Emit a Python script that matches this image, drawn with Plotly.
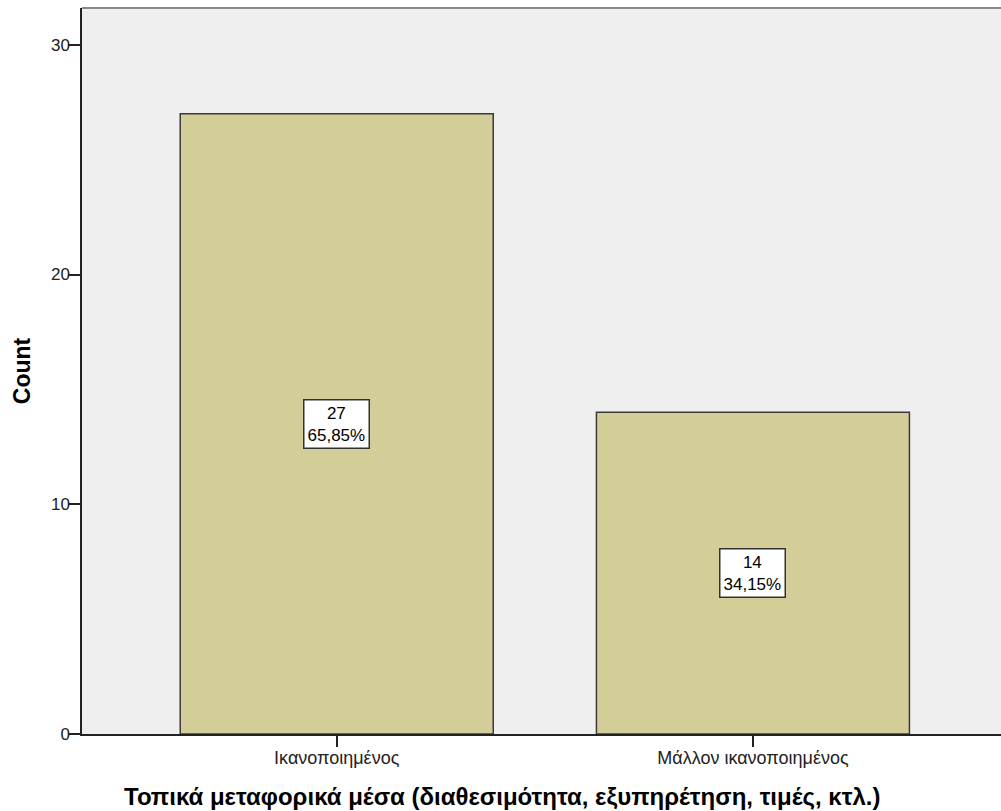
import plotly.graph_objects as go

categories = ["Ικανοποιημένος", "Μάλλον ικανοποιημένος"]
counts = [27, 14]
percents = ["65,85%", "34,15%"]
y_ticks = [0, 10, 20, 30]
x_title = "Τοπικά μεταφορικά μέσα (διαθεσιμότητα, εξυπηρέτηση, τιμές, κτλ.)"

FONT = "Liberation Sans, Arial, sans-serif"

fig = go.Figure()
fig.add_trace(go.Bar(
    x=categories, y=counts, width=0.752,
    marker=dict(color="#D3CE97", line=dict(color="#3A3A3A", width=1.5)),
    hoverinfo="skip",
))

for c, v, p in zip(categories, counts, percents):
    fig.add_annotation(
        x=c, y=v / 2, text=f"{v}<br>{p}", showarrow=False,
        font=dict(family=FONT, size=17, color="#000"),
        bgcolor="white", bordercolor="#333", borderwidth=1.5, borderpad=3,
    )

fig.add_annotation(
    xref="paper", yref="paper", x=0.457, y=0, yanchor="middle", xanchor="center",
    yshift=-62, text=f"<b>{x_title}</b>", showarrow=False,
    font=dict(size=24, family=FONT, color="#000"),
)

fig.update_layout(
    width=1001, height=811,
    margin=dict(l=82, r=0, t=8, b=77),
    paper_bgcolor="white", plot_bgcolor="#EFEFEF",
    showlegend=False,
    font=dict(family=FONT, color="#222"),
    xaxis=dict(
        range=[-0.612, 1.596], showgrid=False, zeroline=False,
        showline=True, linecolor="#222", linewidth=1.5,
        ticks="outside", ticklen=11, tickcolor="#222", tickwidth=1.5,
        ticklabelstandoff=-4,
        tickfont=dict(size=18, family=FONT, color="#222"),
    ),
    yaxis=dict(
        range=[0, 31.6], tickvals=y_ticks, showgrid=False, zeroline=False,
        showline=True, linecolor="#222", linewidth=1.5,
        ticks="outside", ticklen=12, tickcolor="#222", tickwidth=1.5,
        ticklabelstandoff=-5,
        tickfont=dict(size=17, family=FONT, color="#222"),
        title=dict(text="<b>Count</b>", font=dict(size=23, family=FONT, color="#000"), standoff=14),
    ),
    shapes=[dict(type="line", xref="paper", yref="paper", x0=0, x1=1, y0=1, y1=1,
                 line=dict(color="#888", width=2))],
)

fig.write_html("out.html", config={"displayModeBar": False},
               post_script="document.body.style.margin='0';")
